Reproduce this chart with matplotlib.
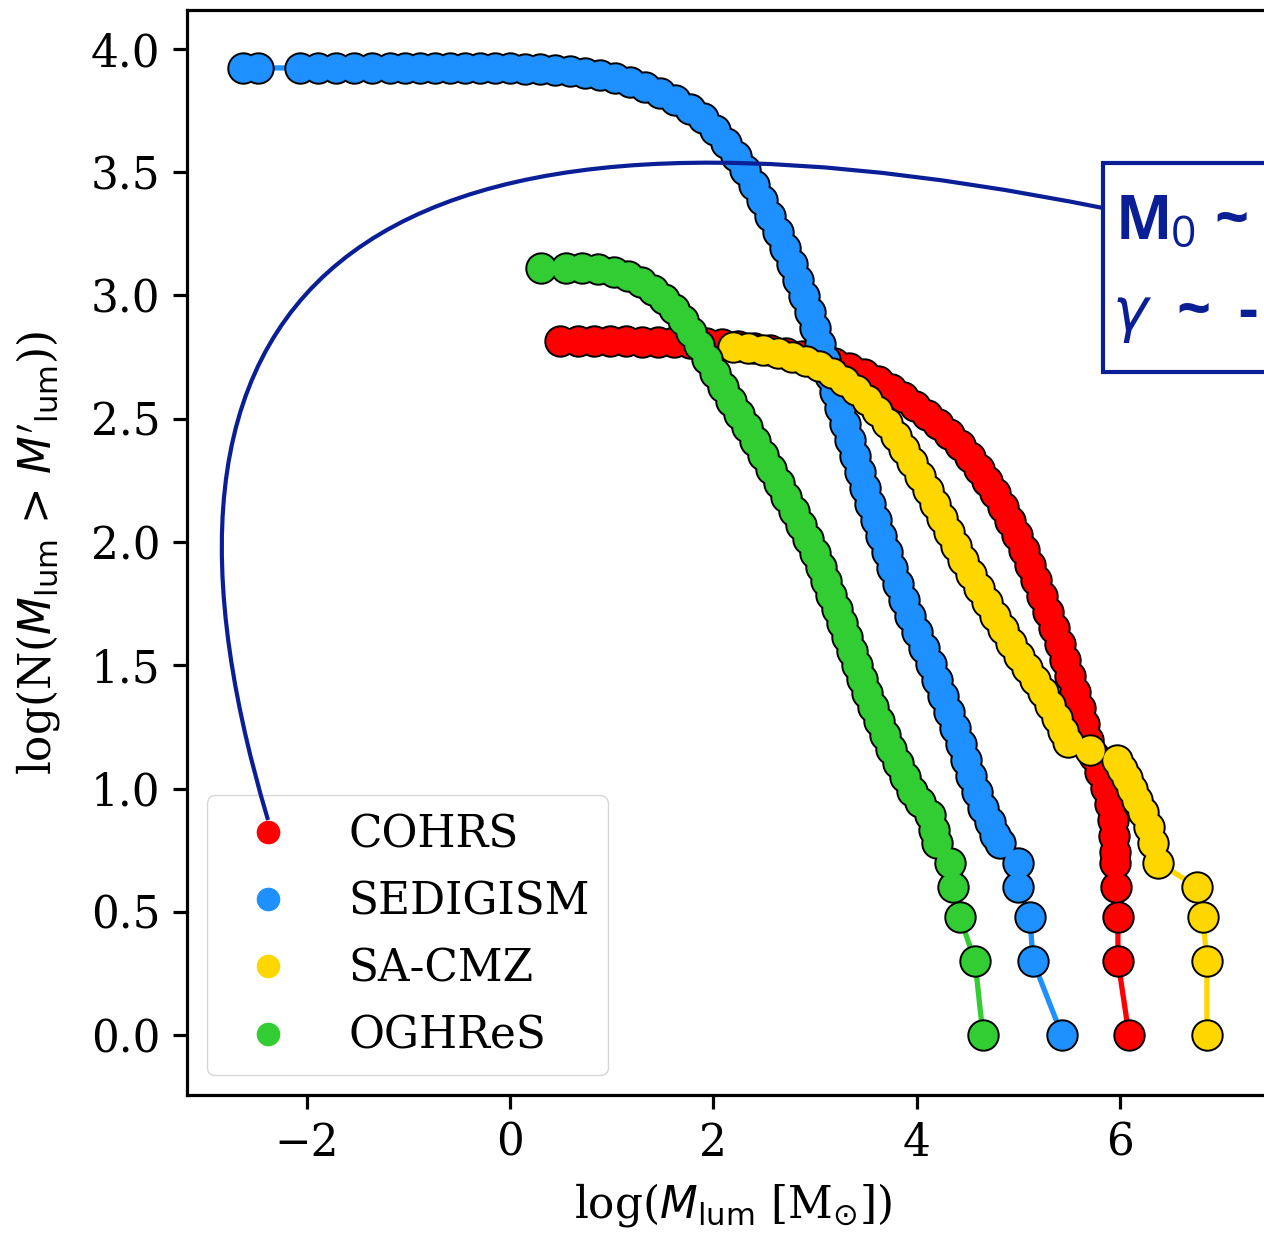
import matplotlib
matplotlib.use("Agg")
import matplotlib.pyplot as plt
from matplotlib.lines import Line2D
from matplotlib.path import Path
from matplotlib.patches import PathPatch, Rectangle

# ---------------- data ----------------
labels = ["COHRS", "SEDIGISM", "SA-CMZ", "OGHReS"]
colors = ["#ff0000", "#1e90ff", "#ffd700", "#32cd32"]

cohrs_x = [0.492, 0.669, 0.826, 0.983, 1.141, 1.298, 1.455, 1.613, 1.770, 1.927,
           2.085, 2.242, 2.399, 2.557, 2.714, 2.871, 3.029, 3.186, 3.333, 3.481,
           3.618, 3.746, 3.864, 3.982, 4.100, 4.208, 4.317, 4.425, 4.523, 4.612,
           4.690, 4.769, 4.848, 4.916, 4.985, 5.054, 5.113, 5.172, 5.231, 5.290,
           5.349, 5.408, 5.457, 5.506, 5.556, 5.605, 5.644, 5.683, 5.742, 5.801,
           5.860, 5.900, 5.929, 5.939, 5.949, 5.949, 5.959, 5.978, 5.978, 6.087]
cohrs_y = [2.815, 2.815, 2.815, 2.815, 2.815, 2.811, 2.811, 2.811, 2.807, 2.807,
           2.803, 2.795, 2.787, 2.779, 2.767, 2.755, 2.742, 2.726, 2.706, 2.682,
           2.653, 2.621, 2.588, 2.552, 2.515, 2.479, 2.438, 2.394, 2.345, 2.296,
           2.247, 2.199, 2.142, 2.085, 2.028, 1.968, 1.907, 1.846, 1.781, 1.716,
           1.651, 1.586, 1.521, 1.456, 1.391, 1.327, 1.262, 1.197, 1.132, 1.067,
           1.002, 0.937, 0.872, 0.807, 0.742, 0.699, 0.602, 0.477, 0.301, 0.0]

sedigism_x = [-2.625, -2.478, -2.065, -1.888, -1.711, -1.534, -1.357, -1.180, -1.032, -0.885,
              -0.737, -0.590, -0.442, -0.295, -0.147, 0.000, 0.147, 0.295, 0.442, 0.590,
              0.737, 0.885, 1.032, 1.180, 1.327, 1.475, 1.622, 1.770, 1.898, 2.016,
              2.124, 2.222, 2.311, 2.399, 2.478, 2.557, 2.635, 2.704, 2.773, 2.832,
              2.891, 2.950, 2.999, 3.048, 3.097, 3.147, 3.196, 3.245, 3.294, 3.343,
              3.392, 3.441, 3.491, 3.540, 3.599, 3.648, 3.707, 3.756, 3.815, 3.874,
              3.933, 4.002, 4.071, 4.140, 4.199, 4.258, 4.317, 4.376, 4.435, 4.484,
              4.533, 4.592, 4.651, 4.720, 4.769, 4.818, 4.995, 4.995, 5.113, 5.143,
              5.428]
sedigism_y = [3.923, 3.923, 3.923, 3.923, 3.923, 3.923, 3.923, 3.923, 3.923, 3.923,
              3.923, 3.923, 3.923, 3.923, 3.923, 3.923, 3.919, 3.919, 3.915, 3.911,
              3.903, 3.895, 3.882, 3.866, 3.846, 3.822, 3.793, 3.757, 3.720, 3.671,
              3.619, 3.566, 3.509, 3.448, 3.387, 3.323, 3.258, 3.193, 3.128, 3.063,
              2.998, 2.933, 2.868, 2.803, 2.738, 2.673, 2.609, 2.544, 2.479, 2.414,
              2.349, 2.284, 2.219, 2.154, 2.089, 2.024, 1.959, 1.894, 1.830, 1.765,
              1.700, 1.635, 1.570, 1.505, 1.440, 1.375, 1.310, 1.245, 1.181, 1.116,
              1.051, 0.986, 0.921, 0.864, 0.811, 0.778, 0.699, 0.602, 0.477, 0.301,
              0.0]

sacmz_x = [2.193, 2.340, 2.488, 2.635, 2.773, 2.911, 3.038, 3.166, 3.284, 3.402,
           3.510, 3.609, 3.707, 3.795, 3.874, 3.953, 4.031, 4.110, 4.179, 4.248,
           4.317, 4.385, 4.454, 4.533, 4.612, 4.690, 4.769, 4.848, 4.926, 5.005,
           5.084, 5.162, 5.241, 5.310, 5.379, 5.438, 5.487, 5.703, 5.969, 6.018,
           6.067, 6.116, 6.165, 6.224, 6.283, 6.323, 6.372, 6.755, 6.814, 6.853,
           6.853]
sacmz_y = [2.791, 2.787, 2.779, 2.767, 2.751, 2.734, 2.714, 2.686, 2.653, 2.617,
           2.576, 2.531, 2.483, 2.430, 2.377, 2.325, 2.268, 2.211, 2.154, 2.097,
           2.041, 1.984, 1.927, 1.870, 1.813, 1.757, 1.700, 1.647, 1.590, 1.538,
           1.489, 1.440, 1.391, 1.339, 1.286, 1.233, 1.189, 1.156, 1.114, 1.079,
           1.041, 1.000, 0.954, 0.903, 0.845, 0.778, 0.699, 0.602, 0.477, 0.301,
           0.0]

oghres_x = [0.305, 0.551, 0.708, 0.865, 1.023, 1.160, 1.288, 1.406, 1.514, 1.613,
            1.701, 1.780, 1.858, 1.937, 2.016, 2.094, 2.173, 2.252, 2.330, 2.409,
            2.488, 2.566, 2.645, 2.714, 2.793, 2.861, 2.930, 2.999, 3.058, 3.107,
            3.156, 3.215, 3.264, 3.314, 3.363, 3.412, 3.461, 3.510, 3.569, 3.628,
            3.687, 3.746, 3.815, 3.884, 3.953, 4.031, 4.130, 4.169, 4.199, 4.326,
            4.356, 4.425, 4.572, 4.651]
oghres_y = [3.112, 3.112, 3.112, 3.108, 3.095, 3.079, 3.055, 3.022, 2.986, 2.945,
            2.901, 2.852, 2.799, 2.742, 2.686, 2.629, 2.572, 2.519, 2.467, 2.410,
            2.353, 2.296, 2.239, 2.183, 2.126, 2.069, 2.012, 1.955, 1.899, 1.842,
            1.785, 1.728, 1.671, 1.615, 1.558, 1.501, 1.444, 1.387, 1.331, 1.274,
            1.217, 1.160, 1.103, 1.047, 0.990, 0.945, 0.892, 0.832, 0.779, 0.699,
            0.602, 0.477, 0.301, 0.0]

xticks = [-2, 0, 2, 4, 6]
yticks = [0.0, 0.5, 1.0, 1.5, 2.0, 2.5, 3.0, 3.5, 4.0]

series_x = [cohrs_x, sedigism_x, sacmz_x, oghres_x]
series_y = [cohrs_y, sedigism_y, sacmz_y, oghres_y]

# ---------------- figure ----------------
W, H = 1264, 1233
FS = 31.5
plt.rcParams["font.family"] = ["DejaVu Serif"]
plt.rcParams["font.size"] = FS

fig = plt.figure(figsize=(W / 100, H / 100), dpi=100)
ax = fig.add_axes([187 / W, 138 / H, 1091 / W, 1085 / H])

MS = 20.5
for xs, ys, c in zip(series_x, series_y, colors):
    # outline layer: line + black-edged markers
    ax.plot(xs, ys, "-", marker="o", color=c, mfc=c, mec="black",
            mew=2.8, ms=MS, lw=3.8)
    # face layer: hides the inner parts of overlapping outlines
    ax.plot(xs, ys, ls="", marker="o", mfc=c, mec=c, mew=0.0, ms=MS)

ax.set_xlim(-3.176, 7.552)
ax.set_ylim(-0.243, 4.158)
ax.set_xticks(xticks)
ax.set_yticks(yticks)
ax.set_yticklabels([f"{v:.1f}" for v in yticks])
ax.tick_params(length=10, width=2.3, labelsize=FS, pad=9)
for sp in ax.spines.values():
    sp.set_linewidth(2.3)

ax.set_xlabel(r"log($M_{\rm lum}$ [M$_{\odot}$])", fontsize=FS, labelpad=12)
ax.set_ylabel(r"log(N($M_{\rm lum}$ > $M'_{\rm lum}$))", fontsize=FS, labelpad=21)

handles = [Line2D([], [], ls="", marker="o", color=c, mfc=c, mec=c, ms=16)
           for c in colors]
ax.legend(handles, labels, loc="lower left", fontsize=FS, handletextpad=0.85,
          borderpad=0.4, labelspacing=0.55, borderaxespad=0.45)

# ---------------- annotation (arc + box) ----------------
navy = "#0a1f96"

def fp(px, py):
    return (px / W, 1 - py / H)

verts = [fp(268, 820), fp(20, -10), fp(1103, 208)]
codes = [Path.MOVETO, Path.CURVE3, Path.CURVE3]
arc = PathPatch(Path(verts, codes), transform=fig.transFigure, fill=False,
                edgecolor=navy, lw=3.0, zorder=10)
fig.patches.append(arc)

x0, y0 = fp(1103, 372)
box = Rectangle((x0, y0), 300 / W, (372 - 163) / H, transform=fig.transFigure,
                facecolor="white", edgecolor=navy, lw=3.0, zorder=11)
fig.patches.append(box)

fig.text(*fp(1116, 239), "M", fontsize=43, fontweight="bold", family="Open Sans",
         color=navy, zorder=12, va="baseline")
fig.text(*fp(1171, 247), "0", fontsize=32, family="Open Sans",
         color=navy, zorder=12, va="baseline")
fig.text(*fp(1214, 239), "~", fontsize=43, fontweight="bold", family="Open Sans",
         color=navy, zorder=12, va="baseline")
fig.text(*fp(1112, 330), r"$\gamma$", fontsize=43,
         color=navy, zorder=12, va="baseline")
fig.text(*fp(1176, 330), "~", fontsize=43, fontweight="bold", family="Open Sans",
         color=navy, zorder=12, va="baseline")
fig.text(*fp(1238, 330), "-", fontsize=43, fontweight="bold", family="Open Sans",
         color=navy, zorder=12, va="baseline")

fig.savefig("out.png", dpi=100)
